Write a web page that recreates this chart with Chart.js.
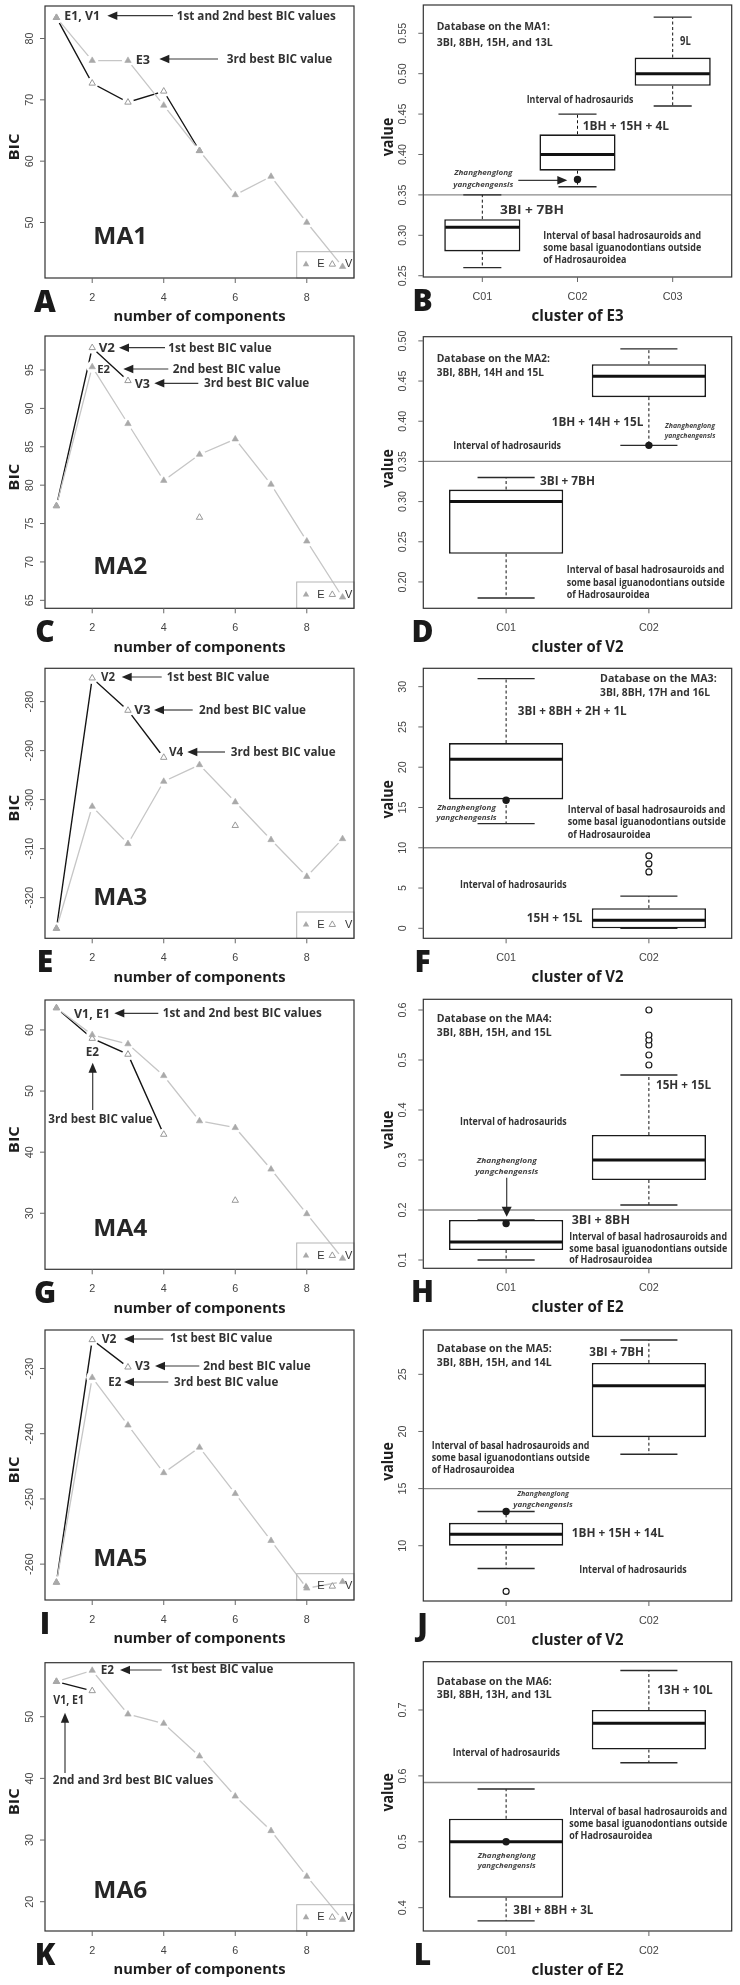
<!DOCTYPE html>
<html>
<head>
<meta charset="utf-8">
<script src="https://cdn.jsdelivr.net/npm/chart.js@4.4.0/dist/chart.umd.min.js"></script>
<style>
  html, body { margin: 0; padding: 0; background: #fff; }
  #fig { position: relative; width: 740px; height: 1985px; overflow: hidden; }
  #fig canvas { position: absolute; }
</style>
</head>
<body>
<div id="fig"></div>
<script>
// ---- BIC curves (left column) ----
const components = [1, 2, 3, 4, 5, 6, 7, 8, 9];
const compTicks = ['2', '4', '6', '8'];

const bicE_MA1 = [83.4, 76.4, 76.4, 69.1, 61.7, 54.5, 57.5, 50.0, 42.8];
const bicV_MA1 = [83.4, 72.7, 69.6, 71.4, 61.7, null, null, null, null];
const bicE_MA2 = [77.3, 95.4, 88.0, 80.6, 84.0, 86.0, 80.1, 72.7, 65.4];
const bicV_MA2 = [77.3, 97.9, 93.6, null, 75.8, null, null, null, null];
const bicE_MA3 = [-326.3, -301.4, -309.0, -296.3, -292.9, -300.5, -308.2, -315.7, -308.0];
const bicV_MA3 = [-326.3, -275.2, -281.8, -291.4, null, -305.3, null, null, null];
const bicE_MA4 = [63.6, 59.2, 57.7, 52.5, 45.1, 44.0, 37.2, 29.9, 22.6];
const bicV_MA4 = [63.6, 58.6, 56.0, 42.9, null, 32.1, null, null, null];
const bicE_MA5 = [-262.8, -231.4, -238.7, -246.0, -242.1, -249.2, -256.4, -263.7, -262.7];
const bicV_MA5 = [-262.8, -225.6, -229.8, null, null, null, null, null, null];
const bicE_MA6 = [55.7, 57.5, 50.4, 48.9, 43.6, 37.1, 31.5, 24.1, 17.1];
const bicV_MA6 = [55.7, 54.2, null, null, null, null, null, null, null];

const ticksBIC_MA1 = ['50', '60', '70', '80'];
const ticksBIC_MA2 = ['65', '70', '75', '80', '85', '90', '95'];
const ticksBIC_MA3 = ['-320', '-310', '-300', '-290', '-280'];
const ticksBIC_MA4 = ['30', '40', '50', '60'];
const ticksBIC_MA5 = ['-260', '-250', '-240', '-230'];
const ticksBIC_MA6 = ['20', '30', '40', '50'];

// ---- box plots (right column) ----
const clusters3 = ['C01', 'C02', 'C03'];
const clusters2 = ['C01', 'C02'];

const boxMin_MA1 = [0.26, 0.36, 0.46];
const boxQ1_MA1 = [0.28, 0.38, 0.485];
const boxMed_MA1 = [0.31, 0.40, 0.50];
const boxQ3_MA1 = [0.32, 0.425, 0.52];
const boxMax_MA1 = [0.35, 0.45, 0.57];
const outl_MA1 = [[], [], []];
const spec_MA1 = [null, 0.369, null];

const boxMin_MA2 = [0.18, 0.37];
const boxQ1_MA2 = [0.235, 0.43];
const boxMed_MA2 = [0.30, 0.456];
const boxQ3_MA2 = [0.315, 0.471];
const boxMax_MA2 = [0.33, 0.49];
const outl_MA2 = [[], []];
const spec_MA2 = [null, 0.37];

const boxMin_MA3 = [13, 0];
const boxQ1_MA3 = [16, 0];
const boxMed_MA3 = [21, 1];
const boxQ3_MA3 = [23, 2.5];
const boxMax_MA3 = [31, 4];
const outl_MA3 = [[], [7, 8, 9]];
const spec_MA3 = [15.9, null];

const boxMin_MA4 = [0.10, 0.21];
const boxQ1_MA4 = [0.12, 0.26];
const boxMed_MA4 = [0.136, 0.30];
const boxQ3_MA4 = [0.18, 0.35];
const boxMax_MA4 = [0.18, 0.47];
const outl_MA4 = [[], [0.49, 0.51, 0.53, 0.54, 0.55, 0.60]];
const spec_MA4 = [0.173, null];

const boxMin_MA5 = [8, 18];
const boxQ1_MA5 = [10, 19.5];
const boxMed_MA5 = [11, 24];
const boxQ3_MA5 = [12, 26];
const boxMax_MA5 = [13, 28];
const outl_MA5 = [[6], []];
const spec_MA5 = [13, null];

const boxMin_MA6 = [0.38, 0.62];
const boxQ1_MA6 = [0.415, 0.64];
const boxMed_MA6 = [0.50, 0.68];
const boxQ3_MA6 = [0.535, 0.70];
const boxMax_MA6 = [0.58, 0.76];
const outl_MA6 = [[], []];
const spec_MA6 = [0.50, null];

const ticksVal_MA1 = ['0.25', '0.30', '0.35', '0.40', '0.45', '0.50', '0.55'];
const ticksVal_MA2 = ['0.20', '0.25', '0.30', '0.35', '0.40', '0.45', '0.50'];
const ticksVal_MA3 = ['0', '5', '10', '15', '20', '25', '30'];
const ticksVal_MA4 = ['0.1', '0.2', '0.3', '0.4', '0.5', '0.6'];
const ticksVal_MA5 = ['10', '15', '20', '25'];
const ticksVal_MA6 = ['0.4', '0.5', '0.6', '0.7'];

const refLines = [0.35, 0.35, 10, 0.2, 15, 0.59];

// ---- drawing helpers ----
const ANN = '"Open Sans", "DejaVu Sans", sans-serif';
const TICK = '"Liberation Sans", Arial, sans-serif';
const INK = '#333';
const rowTop = [0, 330, 660, 990, 1320, 1650];
const fig = document.getElementById('fig');

function makeCanvas(col, row, h) {
  const c = document.createElement('canvas');
  c.width = 370; c.height = h;
  c.style.left = (col * 370) + 'px';
  c.style.top = rowTop[row] + 'px';
  c.style.width = '370px'; c.style.height = h + 'px';
  fig.appendChild(c);
  return c;
}

function drawText(ctx, a) {
  ctx.save();
  ctx.font = (a.it ? 'italic ' : '') + (a.wt || 700) + ' ' + a.s + 'px ' + (a.f || ANN);
  ctx.fillStyle = a.col || INK;
  ctx.textBaseline = 'middle';
  ctx.textAlign = a.c ? 'center' : 'left';
  ctx.translate(a.x, a.y);
  if (a.rot) ctx.rotate(a.rot);
  if (a.w) ctx.scale(a.w / ctx.measureText(a.t).width, 1);
  ctx.fillText(a.t, 0, 0);
  ctx.restore();
}

function drawArrow(ctx, x1, y1, x2, y2, hl, hw) {
  hl = hl || 10; hw = hw || 4.2;
  const ang = Math.atan2(y2 - y1, x2 - x1);
  ctx.save();
  ctx.strokeStyle = '#3a3a3a'; ctx.fillStyle = '#222'; ctx.lineWidth = 1.2;
  ctx.beginPath();
  ctx.moveTo(x1, y1);
  ctx.lineTo(x2 - Math.cos(ang) * hl * 0.7, y2 - Math.sin(ang) * hl * 0.7);
  ctx.stroke();
  ctx.translate(x2, y2); ctx.rotate(ang);
  ctx.beginPath(); ctx.moveTo(0, 0); ctx.lineTo(-hl, -hw); ctx.lineTo(-hl, hw); ctx.closePath(); ctx.fill();
  ctx.restore();
}

function triangle(ctx, x, y, r, filled) {
  ctx.save();
  ctx.beginPath();
  for (let k = 0; k < 3; k++) {
    const a = k * 2 * Math.PI / 3;
    const px = x + Math.sin(a) * r, py = y - Math.cos(a) * r;
    if (k === 0) ctx.moveTo(px, py); else ctx.lineTo(px, py);
  }
  ctx.closePath();
  if (filled) { ctx.fillStyle = '#a9a9a9'; ctx.fill(); }
  else { ctx.fillStyle = '#fff'; ctx.fill(); ctx.strokeStyle = '#999'; ctx.lineWidth = 1; ctx.stroke(); }
  ctx.restore();
}

function framePlugin(p) {
  return {
    id: 'frame' + p.letter,
    beforeDatasetsDraw(chart) {
      if (p.kind !== 'box') return;
      const {ctx, chartArea: ca, scales: {x, y}} = chart;
      const ry = y.getPixelForValue(p.ref);
      ctx.save();
      ctx.strokeStyle = '#8a8a8a'; ctx.lineWidth = 1.4;
      ctx.beginPath(); ctx.moveTo(ca.left, ry); ctx.lineTo(ca.right, ry); ctx.stroke();
      const meta = chart.getDatasetMeta(0);
      p.cats.forEach((c, i) => {
        const cx = x.getPixelForValue(i + 1);
        const half = meta.data[i].width / 4;
        ctx.strokeStyle = '#111'; ctx.lineWidth = 1;
        ctx.setLineDash([3, 2.5]);
        ctx.beginPath();
        ctx.moveTo(cx, y.getPixelForValue(p.q3[i])); ctx.lineTo(cx, y.getPixelForValue(p.max[i]));
        ctx.moveTo(cx, y.getPixelForValue(p.q1[i])); ctx.lineTo(cx, y.getPixelForValue(p.min[i]));
        ctx.stroke();
        ctx.setLineDash([]);
        ctx.strokeStyle = '#2a2a2a'; ctx.lineWidth = 1.4;
        ctx.beginPath();
        [p.min[i], p.max[i]].forEach(v => {
          const py = y.getPixelForValue(v);
          ctx.moveTo(cx - half, py); ctx.lineTo(cx + half, py);
        });
        ctx.stroke();
      });
      ctx.restore();
    },
    afterDatasetDraw(chart, args) {
      if (p.kind !== 'box' || args.index !== 0) return;
      const {ctx, scales: {x, y}} = chart;
      const meta = chart.getDatasetMeta(0);
      ctx.save();
      ctx.strokeStyle = '#111'; ctx.lineWidth = 3;
      p.cats.forEach((c, i) => {
        const cx = x.getPixelForValue(i + 1);
        const half = meta.data[i].width / 2;
        const py = y.getPixelForValue(p.med[i]);
        ctx.beginPath(); ctx.moveTo(cx - half + 1, py); ctx.lineTo(cx + half - 1, py); ctx.stroke();
      });
      ctx.restore();
    },
    afterDraw(chart) {
      const {ctx, chartArea: ca, scales: {x, y}} = chart;
      const left = p.kind === 'bic';
      ctx.save();
      // legend (BIC panels)
      if (left) {
        const lx = ca.right - 57.3, ly = ca.bottom - 26.3, cy = ca.bottom - 13.7;
        ctx.strokeStyle = '#b5b5b5'; ctx.lineWidth = 1;
        ctx.strokeRect(lx, ly, ca.right - lx, ca.bottom - ly);
        triangle(ctx, lx + 9.3, cy, 3.7, true);
        triangle(ctx, lx + 35.6, cy, 3.7, false);
        drawText(ctx, {t: 'E', x: lx + 20.6, y: cy, s: 11, wt: 400, f: TICK, col: '#333'});
        drawText(ctx, {t: 'V', x: lx + 48.3, y: cy, s: 11, wt: 400, f: TICK, col: '#333'});
      }
      // plot frame
      ctx.strokeStyle = '#333'; ctx.lineWidth = 1.2;
      ctx.strokeRect(ca.left, ca.top, ca.right - ca.left, ca.bottom - ca.top);
      // x axis ticks
      ctx.strokeStyle = '#666'; ctx.lineWidth = 1;
      p.xTicks.forEach((lbl, i) => {
        const px = x.getPixelForValue(p.xVals[i]);
        ctx.beginPath(); ctx.moveTo(px, ca.bottom); ctx.lineTo(px, ca.bottom + 5); ctx.stroke();
        drawText(ctx, {t: lbl, x: px, y: ca.bottom + 20, s: 10.8, wt: 400, f: TICK, col: '#444', c: true});
      });
      // y axis ticks (labels rotated, R style)
      p.yTicks.forEach(lbl => {
        const py = y.getPixelForValue(parseFloat(lbl));
        ctx.beginPath(); ctx.moveTo(ca.left, py); ctx.lineTo(ca.left - 5, py); ctx.stroke();
        drawText(ctx, {t: lbl, x: ca.left - (left ? 15 : 20), y: py, s: 10.8, wt: 400, f: TICK, col: '#444', c: true, rot: -Math.PI / 2});
      });
      // axis titles
      const midY = (ca.top + ca.bottom) / 2, midX = (ca.left + ca.right) / 2;
      if (left) {
        drawText(ctx, {t: 'BIC', x: 15, y: midY + 5, s: 15, w: 27, c: true, rot: -Math.PI / 2, col: '#1e1e1e'});
        drawText(ctx, {t: 'number of components', x: midX, y: ca.bottom + 39, s: 15, w: 172, c: true, col: '#1e1e1e'});
        drawText(ctx, {t: p.title, x: 93.3, y: p.titleY, s: 24, w: 54, col: '#262626'});
      } else {
        drawText(ctx, {t: 'value', x: 18.3, y: midY - 4, s: 16, w: 38.5, c: true, rot: -Math.PI / 2, col: '#1e1e1e'});
        drawText(ctx, {t: p.xTitle, x: midX, y: ca.bottom + 39, s: 16, w: 92, c: true, col: '#1e1e1e'});
      }
      // panel letter
      drawText(ctx, {t: p.letter, x: left ? 45 : 52.5, y: ca.bottom + 25.5, s: 30, wt: 800, c: true, col: '#1a1a1a'});
      // annotations
      p.anns.forEach(a => {
        if (a.arrow) drawArrow(ctx, a.arrow[0], a.arrow[1], a.arrow[2], a.arrow[3], a.hl, a.hw);
        else drawText(ctx, a);
      });
      ctx.restore();
    }
  };
}

function baseOptions(p, H, xMin, xMax, extraX) {
  return {
    responsive: false, animation: false, devicePixelRatio: 1, events: [],
    layout: {padding: {left: p.kind === 'bic' ? 45 : 53.3, right: p.kind === 'bic' ? 16 : 8.3, top: p.top, bottom: H - p.bottom}},
    plugins: {legend: {display: false}, tooltip: {enabled: false}},
    scales: {
      x: Object.assign({type: 'linear', display: false, offset: false, bounds: 'data', min: xMin, max: xMax}, extraX || {}),
      y: {type: 'linear', display: false, bounds: 'data', beginAtZero: false, min: p.yMin, max: p.yMax}
    }
  };
}

function bicChart(p) {
  const H = p.row === 5 ? 335 : 330;
  const cv = makeCanvas(0, p.row, H);
  p.kind = 'bic';
  p.xTicks = compTicks;
  p.xVals = compTicks.map(Number);
  const pts = arr => components.map((c, i) => ({x: c, y: arr[i]}));
  const halo = arr => ({data: pts(arr), showLine: false, pointRadius: 6, pointBackgroundColor: '#fff', pointBorderWidth: 0, order: 3});
  return new Chart(cv, {
    type: 'line',
    data: {datasets: [
      {label: 'E', data: pts(p.E), borderColor: '#c6c6c6', borderWidth: 1.3, pointRadius: 0, spanGaps: false, order: 4},
      {label: 'V', data: pts(p.V), borderColor: '#151515', borderWidth: 1.4, pointRadius: 0, spanGaps: false, order: 4},
      halo(p.E), halo(p.V),
      {label: 'V', data: pts(p.V), showLine: false, pointStyle: 'triangle', pointRadius: 3.7,
        pointBackgroundColor: '#fff', pointBorderColor: '#999', pointBorderWidth: 1, order: 2},
      {label: 'E', data: pts(p.E), showLine: false, pointStyle: 'triangle', pointRadius: 3.7,
        pointBackgroundColor: '#a9a9a9', pointBorderColor: '#a9a9a9', pointBorderWidth: 0.6, order: 1}
    ]},
    options: baseOptions(p, H, 0.68, 9.32),
    plugins: [framePlugin(p)]
  });
}

function boxChart(p) {
  const H = p.row === 5 ? 335 : 330;
  const cv = makeCanvas(1, p.row, H);
  p.kind = 'box';
  const n = p.cats.length;
  const xs = p.cats.map((c, i) => i + 1);
  p.xTicks = p.cats;
  p.xVals = xs;
  const outPts = [];
  p.out.forEach((arr, i) => arr.forEach(v => outPts.push({x: i + 1, y: v})));
  const specPts = p.spec.map((v, i) => ({x: i + 1, y: v})).filter(d => d.y !== null);
  return new Chart(cv, {
    type: 'bar',
    data: {datasets: [
      {data: xs.map((x, i) => ({x: x, y: [p.q1[i], p.q3[i]]})), backgroundColor: '#fff', borderColor: '#1a1a1a',
        borderWidth: 1.6, borderSkipped: false, barPercentage: 0.8, categoryPercentage: 1, order: 3},
      {type: 'scatter', data: outPts, pointRadius: 3, pointBackgroundColor: '#fff', pointBorderColor: '#1a1a1a', pointBorderWidth: 1.2, order: 1},
      {type: 'scatter', data: specPts, pointRadius: 3.7, pointBackgroundColor: '#1a1a1a', pointBorderColor: '#1a1a1a', pointBorderWidth: 0, order: 1}
    ]},
    options: baseOptions(p, H, 0.5 - 0.04 * n, n + 0.5 + 0.04 * n,
      {afterBuildTicks: s => { s.ticks = xs.map(v => ({value: v})); }}),
    plugins: [framePlugin(p)]
  });
}

// ---- annotation layouts ----
const L1 = 11.5, LB = 12.5, DB = 10.5, IV = 9.8, SP = 7.5;
const species = (cx, y1, y2, w1, w2) => [
  {t: 'Zhanghenglong', x: cx, y: y1, w: w1, s: SP, it: true, c: true, col: '#444'},
  {t: 'yangchengensis', x: cx, y: y2, w: w2, s: SP, it: true, c: true, col: '#444'}
];
const basalText = (x, y1, y2, y3) => [
  {t: 'Interval of basal hadrosauroids and', x: x, y: y1, w: 157.7, s: IV},
  {t: 'some basal iguanodontians outside', x: x, y: y2, w: 158, s: IV},
  {t: 'of Hadrosauroidea', x: x, y: y3, w: 83, s: IV}
];

bicChart({letter: 'A', row: 0, top: 5, bottom: 278, yMin: 40.95, yMax: 85.3, E: bicE_MA1, V: bicV_MA1,
  yTicks: ticksBIC_MA1, title: 'MA1', titleY: 237.3, anns: [
    {t: 'E1, V1', x: 64.3, y: 16.7, w: 35.7, s: LB},
    {arrow: [173, 15.7, 107.3, 15.7]},
    {t: '1st and 2nd best BIC values', x: 176.7, y: 16.7, w: 159, s: L1},
    {t: 'E3', x: 135.7, y: 60, w: 14.3, s: LB},
    {arrow: [218, 59, 159.3, 59]},
    {t: '3rd best BIC value', x: 226.7, y: 60, w: 105.6, s: L1}
  ]});

bicChart({letter: 'C', row: 1, top: 6, bottom: 278.3, yMin: 63.96, yMax: 99.43, E: bicE_MA2, V: bicV_MA2,
  yTicks: ticksBIC_MA2, title: 'MA2', titleY: 237, anns: [
    {t: 'V2', x: 98.7, y: 18.3, w: 16.3, s: LB},
    {arrow: [165, 17.7, 119, 17.7]},
    {t: '1st best BIC value', x: 168.3, y: 18.3, w: 103.4, s: L1},
    {t: 'E2', x: 97.3, y: 40, w: 12.7, s: 11},
    {arrow: [168.3, 39, 123.3, 39]},
    {t: '2nd best BIC value', x: 172.7, y: 40, w: 108, s: L1},
    {t: 'V3', x: 134.7, y: 54, w: 15.3, s: LB},
    {arrow: [198.3, 53.3, 154.3, 53.3]},
    {t: '3rd best BIC value', x: 204, y: 54, w: 105.3, s: L1}
  ]});

bicChart({letter: 'E', row: 2, top: 8.3, bottom: 278.3, yMin: -328.3, yMax: -273.2, E: bicE_MA3, V: bicV_MA3,
  yTicks: ticksBIC_MA3, title: 'MA3', titleY: 238.3, anns: [
    {t: 'V2', x: 101, y: 17.7, w: 14, s: LB},
    {arrow: [161.7, 17, 121.7, 17]},
    {t: '1st best BIC value', x: 166.7, y: 17.7, w: 102.6, s: L1},
    {t: 'V3', x: 134.3, y: 50.7, w: 16.3, s: LB},
    {arrow: [192.7, 50, 154, 50]},
    {t: '2nd best BIC value', x: 199, y: 50.7, w: 107, s: L1},
    {t: 'V4', x: 169, y: 92.7, w: 14.3, s: LB},
    {arrow: [225, 92, 187.3, 92]},
    {t: '3rd best BIC value', x: 230.7, y: 92.7, w: 105, s: L1}
  ]});

bicChart({letter: 'G', row: 3, top: 10, bottom: 279.3, yMin: 20.83, yMax: 64.9, E: bicE_MA4, V: bicV_MA4,
  yTicks: ticksBIC_MA4, title: 'MA4', titleY: 239.3, anns: [
    {t: 'V1, E1', x: 74, y: 24, w: 36, s: LB},
    {arrow: [158.3, 23.3, 114.3, 23.3]},
    {t: '1st and 2nd best BIC values', x: 162.7, y: 24, w: 159, s: L1},
    {t: 'E2', x: 85.7, y: 62.7, w: 13.3, s: LB},
    {arrow: [92.7, 120, 92.7, 72.7]},
    {t: '3rd best BIC value', x: 48.3, y: 130, w: 104.4, s: L1}
  ]});

bicChart({letter: 'I', row: 4, top: 10, bottom: 280, yMin: -265.5, yMax: -224.1, E: bicE_MA5, V: bicV_MA5,
  yTicks: ticksBIC_MA5, title: 'MA5', titleY: 239, anns: [
    {t: 'V2', x: 101.7, y: 19, w: 14.7, s: LB},
    {arrow: [163.3, 19, 124, 19]},
    {t: '1st best BIC value', x: 170, y: 19, w: 102.3, s: L1},
    {t: 'V3', x: 135, y: 46.7, w: 15, s: LB},
    {arrow: [199.3, 46, 155, 46]},
    {t: '2nd best BIC value', x: 203.3, y: 46.7, w: 107.4, s: L1},
    {t: 'E2', x: 108.3, y: 62.7, w: 13, s: LB},
    {arrow: [168.3, 62, 124, 62]},
    {t: '3rd best BIC value', x: 174, y: 62.7, w: 104.3, s: L1}
  ]});

bicChart({letter: 'K', row: 5, top: 12.7, bottom: 281, yMin: 15.25, yMax: 58.76, E: bicE_MA6, V: bicV_MA6,
  yTicks: ticksBIC_MA6, title: 'MA6', titleY: 240.7, anns: [
    {t: 'E2', x: 100.7, y: 20, w: 13.3, s: LB},
    {arrow: [161.7, 20, 120, 20]},
    {t: '1st best BIC value', x: 170.7, y: 20, w: 102.6, s: L1},
    {t: 'V1, E1', x: 53.3, y: 50.7, w: 30.7, s: LB},
    {arrow: [65, 123, 65, 62.7]},
    {t: '2nd and 3rd best BIC values', x: 52.7, y: 131, w: 160.6, s: L1}
  ]});

boxChart({letter: 'B', row: 0, top: 5, bottom: 277, yMin: 0.2484, yMax: 0.585, cats: clusters3,
  min: boxMin_MA1, q1: boxQ1_MA1, med: boxMed_MA1, q3: boxQ3_MA1, max: boxMax_MA1, out: outl_MA1, spec: spec_MA1,
  ref: refLines[0], yTicks: ticksVal_MA1, xTitle: 'cluster of E3', anns: [
    {t: 'Database on the MA1:', x: 66.7, y: 26.7, w: 113.3, s: DB},
    {t: '3BI, 8BH, 15H, and 13L', x: 66.7, y: 43.3, w: 116, s: DB},
    {t: '9L', x: 310, y: 41.7, w: 10.7, s: LB},
    {t: 'Interval of hadrosaurids', x: 156.7, y: 100.7, w: 106.7, s: IV},
    {t: '1BH + 15H + 4L', x: 212.7, y: 126, w: 86.3, s: LB},
    ...species(113.3, 173.3, 185, 58.3, 60),
    {arrow: [148.3, 180.3, 197.3, 180.3]},
    {t: '3BI + 7BH', x: 130, y: 210, w: 64, s: LB},
    ...basalText(173.3, 236.7, 248.3, 260)
  ]});

boxChart({letter: 'D', row: 1, top: 6.7, bottom: 278.3, yMin: 0.1672, yMax: 0.5052, cats: clusters2,
  min: boxMin_MA2, q1: boxQ1_MA2, med: boxMed_MA2, q3: boxQ3_MA2, max: boxMax_MA2, out: outl_MA2, spec: spec_MA2,
  ref: refLines[1], yTicks: ticksVal_MA2, xTitle: 'cluster of V2', anns: [
    {t: 'Database on the MA2:', x: 66.7, y: 29, w: 113.3, s: DB},
    {t: '3BI, 8BH, 14H and 15L', x: 66.7, y: 43.3, w: 107.3, s: DB},
    {t: '1BH + 14H + 15L', x: 181.7, y: 92.7, w: 91.7, s: LB},
    ...species(320, 96, 106, 50, 50.7),
    {t: 'Interval of hadrosaurids', x: 83.3, y: 116.7, w: 107.7, s: IV},
    {t: '3BI + 7BH', x: 170, y: 151.7, w: 55, s: LB},
    ...basalText(196.7, 240.7, 253.3, 265.7)
  ]});

boxChart({letter: 'F', row: 2, top: 8.3, bottom: 278.3, yMin: -1.24, yMax: 32.28, cats: clusters2,
  min: boxMin_MA3, q1: boxQ1_MA3, med: boxMed_MA3, q3: boxQ3_MA3, max: boxMax_MA3, out: outl_MA3, spec: spec_MA3,
  ref: refLines[2], yTicks: ticksVal_MA3, xTitle: 'cluster of V2', anns: [
    {t: 'Database on the MA3:', x: 230, y: 19.3, w: 116.7, s: DB},
    {t: '3BI, 8BH, 17H and 16L', x: 230, y: 33.3, w: 110, s: DB},
    {t: '3BI + 8BH + 2H + 1L', x: 147.7, y: 51.7, w: 109, s: LB},
    ...species(96.5, 147.7, 158.3, 58.7, 60.3),
    ...basalText(197.7, 150.7, 162.7, 175),
    {t: 'Interval of hadrosaurids', x: 90, y: 225.3, w: 106.7, s: IV},
    {t: '15H + 15L', x: 156.7, y: 258.3, w: 55.6, s: LB}
  ]});

boxChart({letter: 'H', row: 3, top: 9.3, bottom: 278.3, yMin: 0.0834, yMax: 0.6214, cats: clusters2,
  min: boxMin_MA4, q1: boxQ1_MA4, med: boxMed_MA4, q3: boxQ3_MA4, max: boxMax_MA4, out: outl_MA4, spec: spec_MA4,
  ref: refLines[3], yTicks: ticksVal_MA4, xTitle: 'cluster of E2', anns: [
    {t: 'Database on the MA4:', x: 66.7, y: 29.3, w: 115, s: DB},
    {t: '3BI, 8BH, 15H, and 15L', x: 66.7, y: 43.3, w: 115, s: DB},
    {t: '15H + 15L', x: 286, y: 95, w: 55, s: LB},
    {t: 'Interval of hadrosaurids', x: 90, y: 132.7, w: 106.7, s: IV},
    ...species(136.7, 170.7, 181.7, 60, 63),
    {arrow: [136.7, 187.7, 136.7, 226.7], hl: 10, hw: 5},
    {t: '3BI + 8BH', x: 201.7, y: 230.7, w: 58.3, s: LB},
    ...basalText(199.3, 247.3, 259.3, 270.7)
  ]});

boxChart({letter: 'J', row: 4, top: 10, bottom: 281, yMin: 5.16, yMax: 28.88, cats: clusters2,
  min: boxMin_MA5, q1: boxQ1_MA5, med: boxMed_MA5, q3: boxQ3_MA5, max: boxMax_MA5, out: outl_MA5, spec: spec_MA5,
  ref: refLines[4], yTicks: ticksVal_MA5, xTitle: 'cluster of V2', anns: [
    {t: 'Database on the MA5:', x: 66.7, y: 29.3, w: 115, s: DB},
    {t: '3BI, 8BH, 15H, and 14L', x: 66.7, y: 43.3, w: 115, s: DB},
    {t: '3BI + 7BH', x: 219.3, y: 32.7, w: 54.7, s: LB},
    ...basalText(61.7, 126.7, 138.3, 150),
    ...species(173, 174.3, 185, 51.7, 59.3),
    {t: '1BH + 15H + 14L', x: 201.7, y: 213.3, w: 92.3, s: LB},
    {t: 'Interval of hadrosaurids', x: 209.3, y: 250, w: 107.4, s: IV}
  ]});

boxChart({letter: 'L', row: 5, top: 11.7, bottom: 281, yMin: 0.3646, yMax: 0.7733, cats: clusters2,
  min: boxMin_MA6, q1: boxQ1_MA6, med: boxMed_MA6, q3: boxQ3_MA6, max: boxMax_MA6, out: outl_MA6, spec: spec_MA6,
  ref: refLines[5], yTicks: ticksVal_MA6, xTitle: 'cluster of E2', anns: [
    {t: 'Database on the MA6:', x: 66.7, y: 32.3, w: 115, s: DB},
    {t: '3BI, 8BH, 13H, and 13L', x: 66.7, y: 45, w: 115, s: DB},
    {t: '13H + 10L', x: 287.3, y: 40.7, w: 55.4, s: LB},
    {t: 'Interval of hadrosaurids', x: 82.7, y: 103.3, w: 107.3, s: IV},
    ...basalText(199.3, 162.7, 174, 186),
    ...species(136.7, 206, 216, 58, 58),
    {t: '3BI + 8BH + 3L', x: 143.3, y: 260, w: 80, s: LB}
  ]});
</script>
</body>
</html>
